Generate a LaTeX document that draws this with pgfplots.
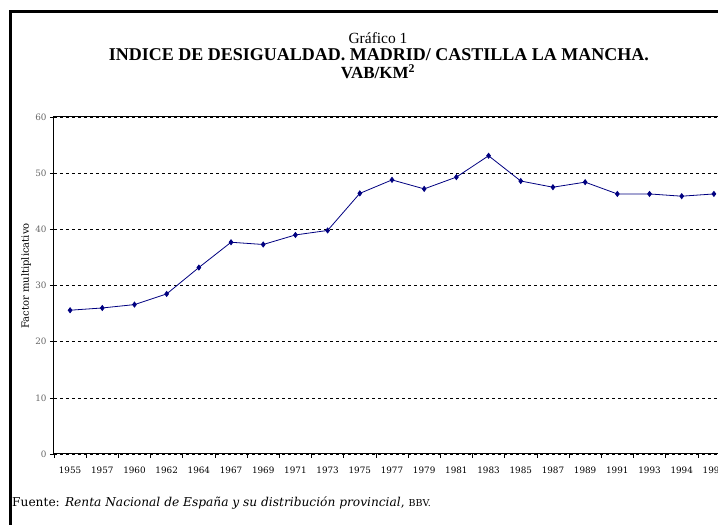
\documentclass[border=0pt]{standalone}
\usepackage{fontspec}
\setmainfont{Liberation Serif}
\newfontfamily\dvs{DejaVu Serif}
\usepackage{pgfplots}
\pgfplotsset{compat=1.18}
\definecolor{navyline}{RGB}{0,0,128}

\begin{document}
\begin{tikzpicture}[x=1pt,y=1pt]
\path[use as bounding box] (0,0) rectangle (718,525);
\clip (0,0) rectangle (718,525);
% outer frame, cut off at right and bottom
\draw[line width=3pt] (10,-10) -- (10,513) -- (740,513);

% titles
\node at (378,487) {\fontsize{15.5}{17}\selectfont Gráfico 1};
\node at (379,470) {\fontsize{18}{20}\selectfont\bfseries INDICE DE DESIGUALDAD. MADRID/ CASTILLA LA MANCHA.};
\node at (378,453) {\fontsize{17}{19}\selectfont\bfseries VAB/KM\textsuperscript{2}};

\begin{axis}[
    at={(54pt,71pt)}, anchor=south west,
    scale only axis,
    width=676pt, height=337pt,
    xmin=-0.5, xmax=20.5,
    ymin=0, ymax=60,
    ytick={0,10,...,60},
    xtick={-0.5,0.5,...,20.5},
    xticklabels={,,,,,,,,,,,,,,,,,,,,,,},
    extra x ticks={0,1,...,20},
    extra x tick labels={1955,1957,1960,1962,1964,1967,1969,1971,1973,1975,1977,1979,1981,1983,1985,1987,1989,1991,1993,1994,1996},
    extra x tick style={major tick length=0pt, grid=none},
    xtick pos=bottom, ytick pos=left,
    tick align=outside,
    major tick length=4pt,
    tick style={black, line width=0.6pt},
    ymajorgrids,
    grid style={black, dashed, line width=0.6pt},
    axis line style={black, line width=1pt},
    /pgf/number format/assume math mode=true,
    xticklabel style={font=\dvs\fontsize{8.8}{10}\selectfont, yshift=-9pt},
    yticklabel style={font=\dvs\fontsize{8.8}{10}\selectfont, text=black!60},
    clip=false,
]
\addplot[color=navyline, line width=0.8pt, mark=diamond*, mark size=2.5pt,
         mark options={fill=navyline}] coordinates {
    (0,25.6) (1,26.0) (2,26.6) (3,28.5) (4,33.2) (5,37.7) (6,37.3)
    (7,39.0) (8,39.8) (9,46.4) (10,48.8) (11,47.2) (12,49.3) (13,53.1)
    (14,48.6) (15,47.5) (16,48.4) (17,46.3) (18,46.3) (19,45.9) (20,46.3)
};
\end{axis}

% y label
\node[rotate=90] at (26,249) {\dvs\fontsize{10}{12}\selectfont Factor multiplicativo};

% source note
\node[anchor=west, inner sep=0pt] at (12,22) {\dvs\fontsize{12.2}{14}\selectfont Fuente: \textit{Renta Nacional de España y su distribución provincial}, {\fontsize{9.5}{11}\selectfont BBV.}};
\end{tikzpicture}
\end{document}
